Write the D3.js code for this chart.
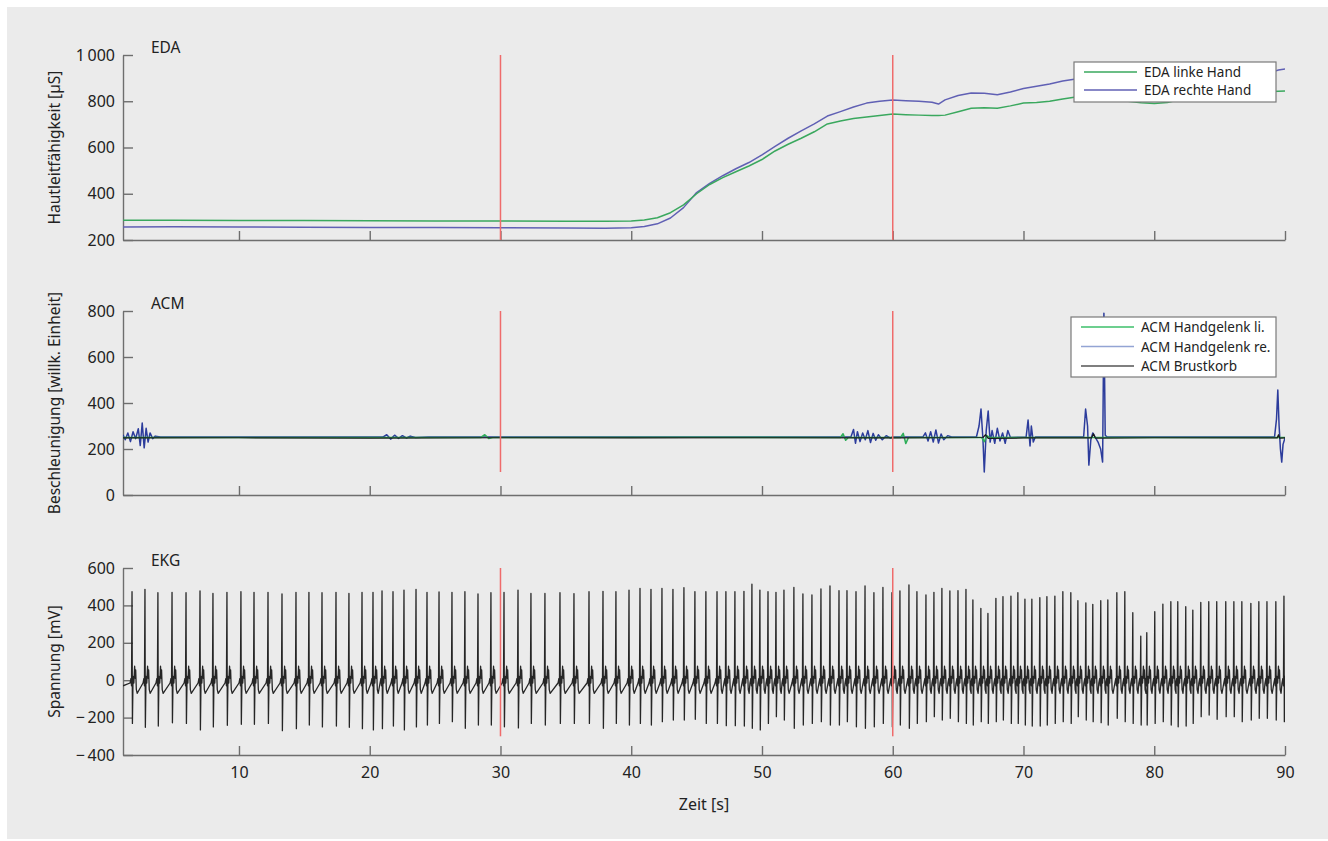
<!DOCTYPE html>
<html>
<head>
<meta charset="utf-8">
<script src="https://cdn.jsdelivr.net/npm/d3@7"></script>
<style>
  body { margin: 0; background: #fff; }
  svg { display: block; font-family: "Noto Sans", sans-serif; }
</style>
</head>
<body>
<script>
"use strict";

/*
 * EDA / ACM / EKG recording, three stacked panels sharing the time axis.
 */

const timeTicks = [10, 20, 30, 40, 50, 60, 70, 80, 90];
const markerTimes = [30, 60];

// EDA, skin conductance [µS]
const edaTimes = [1.13, 5, 10, 15, 20, 25, 30, 35, 38, 40, 41, 42, 43, 44, 45, 46, 47, 48, 49, 50,
  51, 52, 53, 54, 55, 56, 57, 58, 59, 60, 61, 62, 63, 63.5, 64, 65, 66, 67, 68, 69, 70,
  71, 72, 73, 74, 75, 76, 77, 78, 79, 80, 81, 82, 83, 84, 85, 86, 87, 88, 89, 89.5, 90];
const edaLeft = [285, 285, 284, 284, 283, 282, 282, 281, 281, 282, 286, 296, 318, 352, 400, 440, 470, 495, 520, 548,
  585, 614, 640, 668, 702, 715, 725, 732, 738, 745, 742, 740, 738, 738, 740, 755, 770, 772, 770, 780, 792,
  795, 800, 810, 818, 812, 806, 804, 800, 793, 790, 795, 808, 822, 828, 832, 835, 838, 840, 842, 843, 844];
const edaRight = [256, 257, 256, 255, 254, 254, 253, 252, 251, 253, 258, 270, 295, 340, 405, 445, 478, 508, 535, 568,
  605, 640, 672, 702, 736, 755, 775, 792, 800, 805, 802, 800, 796, 788, 806, 825, 836, 835, 828, 840, 855,
  865, 875, 888, 896, 900, 905, 910, 914, 915, 918, 920, 918, 920, 925, 928, 925, 925, 928, 926, 935, 939];

// ACM, acceleration [arbitrary unit] as [time, value]
const acmLeft = [[1.13, 250], [12, 250], [28.5, 250], [28.8, 262], [29.1, 246], [29.4, 250], [45, 251],
  [56.0, 250], [56.2, 266], [56.4, 238], [56.6, 250], [60.6, 250], [60.8, 268], [61.0, 224], [61.2, 250],
  [66.8, 250], [67.0, 232], [67.2, 258], [67.4, 250], [80, 250], [90, 250]];
const acmRight = [[1.13, 262], [1.3, 240], [1.5, 270], [1.7, 232], [1.9, 275], [2.1, 245], [2.3, 288], [2.45, 215],
  [2.6, 313], [2.75, 205], [2.9, 290], [3.05, 230], [3.2, 270], [3.4, 245], [3.6, 256], [4.0, 252],
  [21.0, 252], [21.3, 262], [21.6, 243], [21.9, 260], [22.2, 246], [22.5, 258], [22.8, 248], [23.1, 256], [23.5, 250], [24.5, 252],
  [56.8, 252], [57.0, 285], [57.15, 225], [57.3, 275], [57.5, 232], [57.7, 270], [57.9, 240], [58.1, 280], [58.3, 228],
  [58.5, 268], [58.7, 238], [58.9, 262], [59.2, 240], [59.5, 258], [59.8, 248], [60.0, 252],
  [62.3, 252], [62.5, 270], [62.7, 235], [62.9, 275], [63.1, 230], [63.3, 283], [63.5, 226], [63.7, 265], [63.9, 240],
  [64.2, 258], [64.5, 252],
  [66.4, 252], [66.6, 300], [66.75, 374], [66.9, 240], [67.0, 100], [67.15, 280], [67.3, 365], [67.45, 230], [67.6, 280],
  [67.8, 225], [68.0, 290], [68.2, 235], [68.4, 270], [68.6, 225], [68.8, 280], [69.0, 250],
  [70.2, 252], [70.35, 326], [70.5, 213], [70.6, 300], [70.75, 230], [70.9, 252],
  [74.6, 252], [74.75, 374], [74.9, 300], [75.0, 130], [75.15, 240], [75.3, 270], [75.5, 250], [75.7, 230], [75.9, 200],
  [76.05, 143], [76.15, 790], [76.25, 260], [76.4, 252],
  [89.2, 252], [89.35, 330], [89.45, 456], [89.55, 300], [89.65, 200], [89.75, 143], [89.85, 220], [90, 248]];
const acmChest = [[1.13, 248], [10, 249], [20, 247], [30, 249], [40, 248], [50, 249], [60, 248], [66.9, 250],
  [67.1, 262], [67.3, 246], [70, 248], [75.2, 248], [75.35, 266], [75.5, 247], [80, 249], [89.4, 248], [89.5, 262], [89.6, 247], [90, 248]];

// EKG, one entry per heart beat: R time [s], R peak and S trough [mV]
const beatTimes = [1.82, 2.81, 3.80, 4.88, 5.95, 7.02, 8.01, 9.08, 10.15, 11.15, 12.22, 13.29, 14.36, 15.35, 16.35,
  17.42, 18.41, 19.41, 20.25, 20.94, 21.78, 22.62, 23.54, 24.38, 25.30, 26.29, 27.28, 28.28, 29.27, 30.27,
  31.34, 32.33, 33.40, 34.55, 35.62, 36.77, 37.84, 38.83, 39.83, 40.67, 41.51, 42.35, 43.19, 44.03, 44.87,
  45.71, 46.56, 47.24, 47.93, 48.62, 49.23, 49.84, 50.46, 51.07, 51.68, 52.44, 53.13, 53.82, 54.51, 55.20,
  55.89, 56.50, 57.19, 57.88, 58.56, 59.25, 59.94, 60.55, 61.24, 61.85, 62.54, 63.15, 63.76, 64.37, 64.99,
  65.60, 66.13, 66.74, 67.28, 67.89, 68.43, 69.04, 69.57, 70.11, 70.64, 71.25, 71.79, 72.40, 73.01, 73.62,
  74.16, 74.77, 75.30, 75.91, 76.45, 77.14, 77.75, 78.36, 78.97, 79.43, 80.04, 80.66, 81.27, 81.80, 82.41,
  82.95, 83.56, 84.17, 84.78, 85.47, 86.09, 86.70, 87.39, 88.00, 88.62, 89.30, 89.92];
const beatPeaks = [473, 486, 468, 470, 468, 477, 464, 470, 473, 470, 470, 461, 470, 470, 468, 470, 464, 470, 470, 477,
  473, 482, 486, 470, 472, 470, 473, 461, 468, 470, 482, 464, 464, 468, 463, 473, 475, 473, 481,
  491, 486, 491, 486, 495, 473, 473, 473, 473, 473, 475, 513, 482, 473, 470, 482, 496, 461, 456, 488, 504, 479, 479, 473,
  504, 468, 496, 468, 477, 509, 473, 456, 470, 491, 477, 479, 486, 429, 384, 357, 438, 447, 450, 468,
  433, 433, 441, 447, 450, 473, 468, 425, 414, 406, 425, 429, 468, 473, 361, 236, 254, 366, 407, 420,
  420, 393, 375, 416, 420, 420, 420, 420, 420, 411, 420, 420, 420, 450];
const beatTroughs = [-231, -252, -245, -228, -231, -266, -250, -241, -236, -236, -231, -270, -259, -240, -250, -245,
  -252, -259, -266, -259, -245, -266, -250,
  -240, -231, -222, -257, -240, -240, -249, -255, -231, -240, -231, -231, -231, -257, -231, -240,
  -231, -240, -222, -213, -213, -209, -231, -231, -243, -243, -245, -257, -266, -231, -195, -213, -257, -240,
  -231, -222, -240, -240, -222, -249,
  -257, -249, -231, -249, -240, -257, -231, -222, -195, -213, -204, -222, -231, -240, -222, -231, -222, -213,
  -231, -231, -240, -245, -245, -240, -231, -222, -231, -195, -213, -222, -227, -240, -204, -222, -231, -240,
  -240, -231, -222, -240, -249, -245, -231, -195, -186, -209, -195, -195, -222, -213, -204, -204, -213, -222];
// shape of one beat around the R peak: [offset s, mV], "R"/"S" take the beat values
const beatShape = [[-0.15, -15], [-0.08, 10], [-0.04, -30], [0, "R"], [0.03, "S"], [0.08, 20], [0.14, -15],
  [0.2, 75], [0.25, 10], [0.28, 55], [0.33, -50], [0.4, -70]];

const width = 1328;
const height = 841;
const font = "\"Noto Sans\", sans-serif";
const axisColor = "#6e6e6e";
const markerColor = "#ef6b6b";

let svg = d3.select("body").append("svg")
    .attr("width", width)
    .attr("height", height);

svg.append("rect")
    .attr("x", 7)
    .attr("y", 7)
    .attr("width", width - 7)
    .attr("height", 832)
    .attr("fill", "#ebebeb");

let x = d3.scaleLinear().domain([1.13, 90]).range([123, 1285]);

svg.append("defs").append("clipPath")
    .attr("id", "plotClip")
    .append("rect")
    .attr("x", 123)
    .attr("y", 0)
    .attr("width", 1285 - 123)
    .attr("height", height);

function formatTick(v) {
  let s = Math.abs(v) >= 1000 ? d3.format(",")(Math.abs(v)).replace(",", "\u2009") : String(Math.abs(v));
  return v < 0 ? "\u2212\u2009" + s : s;
}

function drawPanel(opts) {
  let y = d3.scaleLinear().domain(opts.domain).range(opts.range);
  let g = svg.append("g");

  // y axis with ticks pointing inwards
  let yAxis = g.append("g")
      .attr("transform", "translate(123,0)")
      .call(d3.axisLeft(y)
            .tickValues(d3.range(opts.domain[0], opts.domain[1] + 1, 200))
            .tickSizeInner(-10)
            .tickSizeOuter(0)
            .tickPadding(8)
            .tickFormat(formatTick));
  let xAxis = g.append("g")
      .attr("transform", `translate(0,${opts.range[0]})`)
      .call(d3.axisBottom(x)
            .tickValues(timeTicks)
            .tickSizeInner(-9)
            .tickSizeOuter(0)
            .tickPadding(12)
            .tickFormat(opts.showTime ? d3.format("d") : ""));
  for (let a of [yAxis, xAxis]) {
    a.select(".domain").attr("stroke", axisColor).attr("stroke-width", 1.4);
    a.selectAll(".tick line").attr("stroke", axisColor).attr("stroke-width", 1.4);
    a.selectAll(".tick text")
      .attr("fill", "#222")
      .attr("font-family", font)
      .attr("font-size", 16);
  }

  g.append("text")
      .attr("transform", `translate(60,${(opts.range[0] + opts.range[1]) / 2}) rotate(-90)`)
      .attr("text-anchor", "middle")
      .attr("font-size", 15.5)
      .attr("fill", "#222")
      .text(opts.label);

  g.append("text")
      .attr("x", 151)
      .attr("y", opts.range[1] - 2)
      .attr("font-size", 15.5)
      .attr("fill", "#222")
      .text(opts.title);

  let plot = g.append("g").attr("clip-path", "url(#plotClip)");

  for (let s of opts.series) {
    plot.append("path")
        .datum(s.points)
        .attr("fill", "none")
        .attr("stroke", s.color)
        .attr("stroke-width", s.width)
        .attr("stroke-linejoin", "round")
        .attr("d", d3.line().x(d => x(d[0])).y(d => y(d[1])));
  }

  g.selectAll("line.marker")
    .data(markerTimes)
    .enter().append("line")
      .attr("class", "marker")
      .attr("x1", d => x(d))
      .attr("x2", d => x(d))
      .attr("y1", y(opts.markerSpan[0]))
      .attr("y2", y(opts.markerSpan[1]))
      .attr("stroke", markerColor)
      .attr("stroke-width", 1.5);

  if (opts.legend) {
    let L = opts.legend;
    let lg = g.append("g");
    lg.append("rect")
        .attr("x", L.x)
        .attr("y", L.y)
        .attr("width", L.w)
        .attr("height", L.h)
        .attr("fill", "#fff")
        .attr("stroke", "#7a7a7a")
        .attr("stroke-width", 1.2);
    L.items.forEach((item, i) => {
      let cy = L.y + 10 + i * L.step;
      lg.append("line")
          .attr("x1", L.x + 10)
          .attr("x2", L.x + 63)
          .attr("y1", cy)
          .attr("y2", cy)
          .attr("stroke", item.color)
          .attr("stroke-width", 1.5);
      lg.append("text")
          .attr("x", L.x + 70)
          .attr("y", cy + 5)
          .attr("font-size", 13.5)
          .attr("fill", "#222")
          .text(item.name);
    });
  }
}

// EDA
const edaGreen = "#3aa85e";
const edaBlue = "#6060b4";
drawPanel({
  domain: [200, 1000],
  range: [240, 55],
  title: "EDA",
  label: "Hautleitfähigkeit [µS]",
  markerSpan: [1000, 200],
  series: [
    {points: edaTimes.map((t, i) => [t, edaRight[i]]), color: edaBlue, width: 1.5},
    {points: edaTimes.map((t, i) => [t, edaLeft[i]]), color: edaGreen, width: 1.5}
  ],
  legend: {x: 1074, y: 62, w: 202, h: 40, step: 18, items: [
    {name: "EDA linke Hand", color: edaGreen},
    {name: "EDA rechte Hand", color: edaBlue}
  ]}
});

// ACM
drawPanel({
  domain: [0, 800],
  range: [495, 311],
  title: "ACM",
  label: "Beschleunigung [willk. Einheit]",
  markerSpan: [800, 100],
  series: [
    {points: acmRight, color: "#2c3c9c", width: 1.5},
    {points: acmLeft, color: "#2fae5a", width: 1.6},
    {points: acmChest, color: "#1a1a1a", width: 1.2}
  ],
  legend: {x: 1071, y: 317, w: 205, h: 60, step: 19.5, items: [
    {name: "ACM Handgelenk li.", color: "#3cbf6a"},
    {name: "ACM Handgelenk re.", color: "#93a4d4"},
    {name: "ACM Brustkorb", color: "#555"}
  ]}
});

// EKG
let ekgPoints = [[1.13, -30]];
beatTimes.forEach((t, i) => {
  for (let p of beatShape) {
    let v = p[1] === "R" ? beatPeaks[i] : p[1] === "S" ? beatTroughs[i] : p[1];
    ekgPoints.push([t + p[0], v]);
  }
});

drawPanel({
  domain: [-400, 600],
  range: [755, 568],
  title: "EKG",
  label: "Spannung [mV]",
  markerSpan: [600, -300],
  showTime: true,
  series: [
    {points: ekgPoints, color: "#262626", width: 1.3}
  ]
});

svg.append("text")
    .attr("x", x(45.565))
    .attr("y", 810)
    .attr("text-anchor", "middle")
    .attr("font-size", 16)
    .attr("fill", "#222")
    .text("Zeit [s]");
</script>
</body>
</html>
